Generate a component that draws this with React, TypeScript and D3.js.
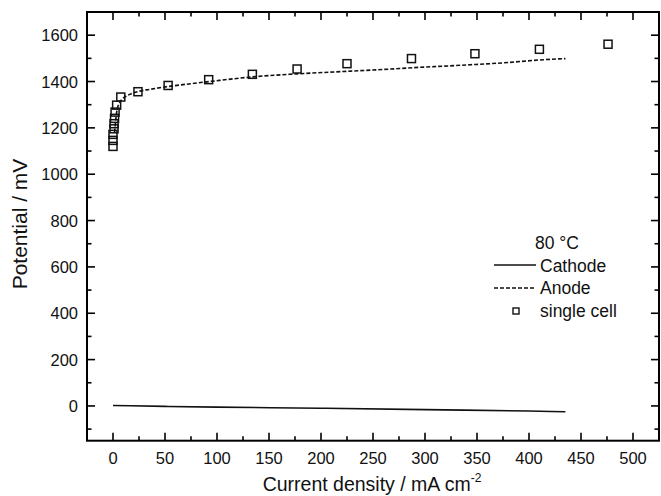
import * as d3 from "d3";

const W = 661;
const H = 496;

// single cell points (square markers)
const cellX = [0, 0, 0, 1, 1, 1.5, 2, 3.5, 7.5, 24, 53, 92, 134, 177, 225, 287, 348, 410, 476];
const cellY = [1120, 1146, 1172, 1196, 1218, 1241, 1268, 1298, 1333, 1356, 1383, 1408, 1431, 1454, 1477, 1499, 1520, 1539, 1561];

// anode curve (dashed)
const anodeX = [1.5, 2, 3, 4, 6, 8, 12, 18, 25, 35, 52, 70, 93, 134, 177, 225, 260, 290, 334, 380, 410, 435];
const anodeY = [1180, 1205, 1250, 1280, 1305, 1320, 1335, 1348, 1358, 1366, 1378, 1388, 1400, 1420, 1433, 1444, 1452, 1460, 1470, 1482, 1493, 1499];

// cathode curve (solid)
const cathodeX = [0, 50, 100, 200, 300, 400, 435];
const cathodeY = [2, -2, -5, -10, -16, -22, -25];

const xTicks = [0, 50, 100, 150, 200, 250, 300, 350, 400, 450, 500];
const yTicks = [0, 200, 400, 600, 800, 1000, 1200, 1400, 1600];

const FONT = "Liberation Sans, Arial, sans-serif";

export default function App() {
  const x = d3.scaleLinear().domain([-25, 525]).range([87, 659]);
  const y = d3.scaleLinear().domain([-150, 1700]).range([440.7, 12]);

  const left = x(-25);
  const right = x(525);
  const top = y(1700);
  const bottom = y(-150);

  const xMinor = d3.range(-25, 526, 25).filter((v) => v % 50 !== 0 && v > -25 && v < 525);
  const yMinor = d3.range(-100, 1700, 200);

  const line = d3
    .line<[number, number]>()
    .x((d) => x(d[0]))
    .y((d) => y(d[1]))
    .curve(d3.curveMonotoneX);

  const anode = line(anodeX.map((v, i) => [v, anodeY[i]]));
  const cathode = line(cathodeX.map((v, i) => [v, cathodeY[i]]));

  const MAJ = 8;
  const MIN = 4.5;
  const sq = 8;

  return (
    <svg
      width={W}
      height={H}
      style={{ position: "absolute", left: 0, top: 0, background: "#fff" }}
      fontFamily={FONT}
      fill="#111"
    >
      <rect width={W} height={H} fill="#fff" />

      {/* data */}
      <path d={cathode || ""} fill="none" stroke="#111" strokeWidth={1.6} />
      <path d={anode || ""} fill="none" stroke="#111" strokeWidth={1.6} strokeDasharray="4,2" />
      {cellX.map((v, i) => (
        <rect
          key={i}
          x={x(v) - sq / 2}
          y={y(cellY[i]) - sq / 2}
          width={sq}
          height={sq}
          fill="none"
          stroke="#111"
          strokeWidth={1.5}
        />
      ))}

      {/* frame */}
      <rect x={left} y={top} width={right - left} height={bottom - top} fill="none" stroke="#000" strokeWidth={2} />

      {/* x ticks bottom & top */}
      {xTicks.map((t) => (
        <g key={"x" + t}>
          <line x1={x(t)} x2={x(t)} y1={bottom} y2={bottom - MAJ} stroke="#000" strokeWidth={1.6} />
          <line x1={x(t)} x2={x(t)} y1={top} y2={top + MAJ} stroke="#000" strokeWidth={1.6} />
          <text x={x(t)} y={464} textAnchor="middle" fontSize={16.5}>
            {t}
          </text>
        </g>
      ))}
      {xMinor.map((t) => (
        <g key={"xm" + t}>
          <line x1={x(t)} x2={x(t)} y1={bottom} y2={bottom - MIN} stroke="#000" strokeWidth={1.6} />
          <line x1={x(t)} x2={x(t)} y1={top} y2={top + MIN} stroke="#000" strokeWidth={1.6} />
        </g>
      ))}

      {/* y ticks left & right */}
      {yTicks.map((t) => (
        <g key={"y" + t}>
          <line x1={left} x2={left + MAJ} y1={y(t)} y2={y(t)} stroke="#000" strokeWidth={1.6} />
          <line x1={right} x2={right - MAJ} y1={y(t)} y2={y(t)} stroke="#000" strokeWidth={1.6} />
          <text x={78} y={y(t) + 6} textAnchor="end" fontSize={16.5}>
            {t}
          </text>
        </g>
      ))}
      {yMinor.map((t) => (
        <g key={"ym" + t}>
          <line x1={left} x2={left + MIN} y1={y(t)} y2={y(t)} stroke="#000" strokeWidth={1.6} />
          <line x1={right} x2={right - MIN} y1={y(t)} y2={y(t)} stroke="#000" strokeWidth={1.6} />
        </g>
      ))}

      {/* axis titles */}
      <text x={372} y={491} textAnchor="middle" fontSize={19.5}>
        Current density / mA cm<tspan fontSize={12} dy={-9}>-2</tspan>
      </text>
      <text transform="translate(27,224) rotate(-90)" textAnchor="middle" fontSize={21}>
        Potential / mV
      </text>

      {/* legend */}
      <text x={535} y={249} fontSize={17.5}>
        80 °C
      </text>
      <line x1={494} x2={536} y1={265} y2={265} stroke="#111" strokeWidth={1.5} />
      <text x={540} y={272} fontSize={17.5}>
        Cathode
      </text>
      <line x1={494} x2={536} y1={288} y2={288} stroke="#111" strokeWidth={1.5} strokeDasharray="4,2" />
      <text x={540} y={294} fontSize={17.5}>
        Anode
      </text>
      <rect x={513} y={308} width={6} height={6} fill="none" stroke="#111" strokeWidth={1.4} />
      <text x={540} y={317} fontSize={17.5}>
        single cell
      </text>
    </svg>
  );
}
